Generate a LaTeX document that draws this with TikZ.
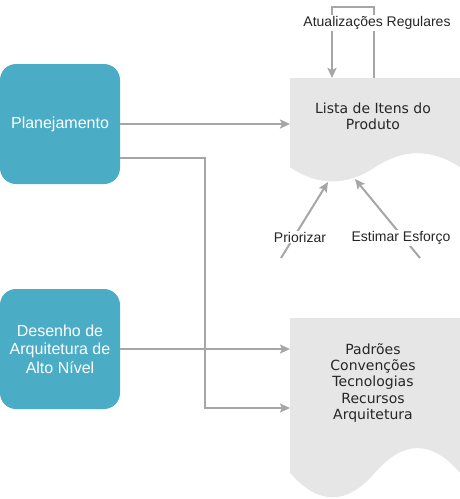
\documentclass[tikz,border=0pt]{standalone}
\usepackage{fontspec}
\setmainfont{Liberation Sans}
\newfontfamily\djv{DejaVu Sans}
\usetikzlibrary{arrows.meta}
\definecolor{boxblue}{HTML}{4BACC6}
\definecolor{docgray}{HTML}{E6E6E6}
\definecolor{linegray}{HTML}{A6A6A6}
\begin{document}
\begin{tikzpicture}[x=1pt,y=-1pt,
  bluebox/.style={fill=boxblue, rounded corners=16pt, minimum width=120pt, minimum height=120pt, inner sep=0pt, text=white, align=center, font=\fontsize{16}{18.5}\selectfont},
  docshape/.style={minimum width=170pt, inner sep=0pt, anchor=north west},
  doctext/.style={font=\djv\fontsize{14}{16.2}\selectfont, align=center, text=black!85},
  conn/.style={draw=linegray, line width=2pt, -{Stealth[length=10pt,width=9pt,inset=2pt]}},
  lbl/.style={fill=white, inner sep=1pt, font=\fontsize{14}{16}\selectfont, text=black!85}
]
\useasboundingbox (0,0) rectangle (460,499);

% documents
\fill[docgray] (290,78) -- (460,78) -- (460,167.25) .. controls (431.67,148.48) and (403.33,148.48) .. (375,167.25) .. controls (346.67,186.15) and (318.33,186.15) .. (290,167.25) -- cycle;
\fill[docgray] (290,318) -- (460,318) -- (460,472.7) .. controls (431.67,439.94) and (403.33,439.94) .. (375,472.7) .. controls (346.67,505.46) and (318.33,505.46) .. (290,472.7) -- cycle;
\node[docshape, minimum height=105pt] (doc1) at (290,78) {};
\node[docshape, minimum height=182pt] (doc2) at (290,318) {};
\node[doctext] (doc1t) at (373,116.5) {Lista de Itens do\\Produto};
\node[doctext] (doc2t) at (373,383) {Padrões\\Convenções\\Tecnologias\\Recursos\\Arquitetura};

% boxes
\node[bluebox] (plan) at (60,124) {Planejamento};
\node[bluebox] (arch) at (60,349) {Desenho de\\Arquitetura de\\Alto Nível};

% connectors
\draw[conn] (plan.east) -- (plan.east -| doc1.west);
\coordinate (jx) at (205,408);
\draw[conn] ([yshift=-34pt]plan.east) -| (jx) -- (jx -| doc2.west);
\draw[conn] (arch.east) -- (arch.east -| doc2.west);

% update loop
\coordinate (lt1) at (374,7);
\coordinate (lt2) at (332,7);
\draw[conn] (doc1.north -| lt1) -- (lt1) -- (lt2) -- (lt2 |- doc1.north);
\node[lbl] (upd) at (377,23) {Atualizações Regulares};

% bottom arrows
\coordinate (pr0) at (281,258);
\coordinate (pr1) at (328,182);
\draw[conn] (pr0) -- (pr1);
\node[lbl] (prl) at (300,237) {Priorizar};
\coordinate (es0) at (420,258);
\coordinate (es1) at (355,179);
\draw[conn] (es0) -- (es1);
\node[lbl] (esl) at (401,238) {Estimar Esforço};
\end{tikzpicture}
\end{document}
